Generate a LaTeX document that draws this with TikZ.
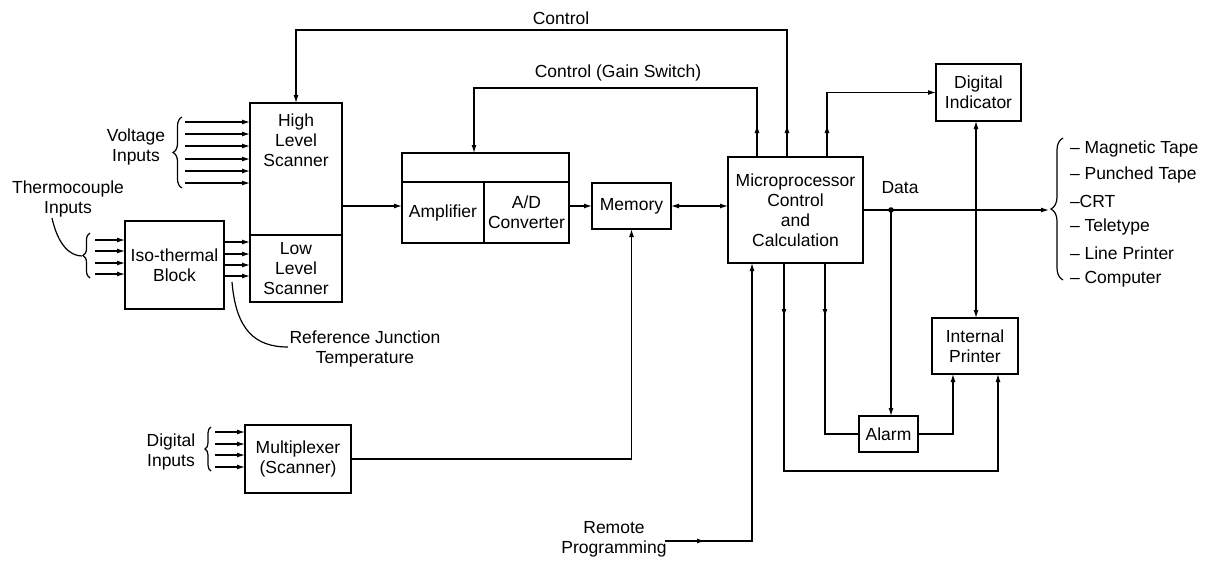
\documentclass[tikz,border=0pt]{standalone}
\usepackage{fontspec}
\setmainfont{Liberation Sans}
\usetikzlibrary{arrows.meta,decorations.pathreplacing,decorations.markings,calc}
\begin{document}
\begin{tikzpicture}[x=1pt,y=-1pt,
  every node/.style={font=\fontsize{17.5}{20}\selectfont, inner sep=0pt, outer sep=0pt},
  box/.style={draw, line width=1.2pt, align=center},
  wire/.style={line width=1.2pt},
  arr/.style={wire, -{Latex[length=8pt,width=5pt]}},
  dbl/.style={wire, {Latex[length=8pt,width=5pt]}-{Latex[length=8pt,width=5pt]}},
  midarr/.style={postaction={decorate}, decoration={markings, mark=at position #1 with {\arrow{Latex[length=8pt,width=5pt]}}}},
  brc/.style={wire, decorate, decoration={brace, amplitude=#1}},
  lbl/.style={align=center},
]
\useasboundingbox (0,0) rectangle (1211,563);

% boxes
\node[box, minimum width=92pt, minimum height=132pt] (hls) at (296,169) {};
\node[lbl] (hlstext) at (296,140) {High\\Level\\Scanner};
\node[box, minimum width=92pt, minimum height=67pt] (lls) at (296,268.5) {Low\\Level\\Scanner};
\node[box, minimum width=99pt, minimum height=88pt] (iso) at (174.5,265) {Iso-thermal\\Block};
\node[box, minimum width=167pt, minimum height=29pt] (amptop) at (485.5,167.5) {};
\node[box, minimum width=82pt, minimum height=61pt] (amp) at (443,212.5) {Amplifier};
\node[box, minimum width=85pt, minimum height=61pt] (adc) at (526.5,212.5) {A/D\\Converter};
\node[box, minimum width=79pt, minimum height=46pt] (memory) at (631.5,206) {Memory};
\node[box, minimum width=135pt, minimum height=106pt] (mp) at (795.5,210) {Microprocessor\\Control\\and\\Calculation};
\node[box, minimum width=85pt, minimum height=57pt] (di) at (978.5,92.5) {Digital\\Indicator};
\node[box, minimum width=86pt, minimum height=56pt] (ip) at (975,346) {Internal\\Printer};
\node[box, minimum width=59pt, minimum height=36pt] (alarm) at (888.5,434) {Alarm};
\node[box, minimum width=106pt, minimum height=68pt] (mux) at (298,459) {Multiplexer\\(Scanner)};

% labels
\node[lbl] (vin) at (136,147) {Voltage\\Inputs};
\node[lbl] (tin) at (68,199) {Thermocouple\\Inputs};
\node[lbl] (din) at (171,452) {Digital\\Inputs};
\node[lbl] (rjt) at (365,349) {Reference Junction\\Temperature};
\node[lbl] (rp) at (614,539) {Remote\\Programming};
\node (ctl) at (561,18) {Control};
\node (gain) at (618,73) {Control (Gain Switch)};
\node (data) at (900,188) {Data};
\node[anchor=west] (o1) at (1070,149) {– Magnetic Tape};
\node[anchor=west] (o2) at (1070,175) {– Punched Tape};
\node[anchor=west] (o3) at (1070,201) {–CRT};
\node[anchor=west] (o4) at (1070,227) {– Teletype};
\node[anchor=west] (o5) at (1070,253) {– Line Printer};
\node[anchor=west] (o6) at (1070,279) {– Computer};

% input arrows
\foreach \y in {122,134,146,159,171,183} \draw[arr] (185,\y) -- (hls.west |- 0,\y);
\foreach \y in {240,251,263,274} \draw[arr] (95,\y) -- (iso.west |- 0,\y);
\foreach \y in {242,254,265,276} \draw[arr] (iso.east |- 0,\y) -- (lls.west |- 0,\y);
\foreach \y in {432,444,455,467} \draw[arr] (215,\y) -- (mux.west |- 0,\y);

% braces
\draw[brc=9pt] (182,188) -- (182,117);
\draw[brc=7pt] (90,278) -- (90,233);
\draw[brc=6pt] (211,471) -- (211,427);
\draw[brc=12pt] (1063,280) -- (1063,138);

% curved pointers
\draw[wire] (52,218) .. controls (58,245) and (70,256) .. (82,256);
\draw[wire] (232,282) .. controls (236,330) and (255,347) .. (288,347);

% signal path
\draw[arr] (hls.east |- memory.west) -- (amp.west |- memory.west);
\draw[arr] (adc.east |- memory.west) -- (memory.west);
\draw[dbl] (memory.east) -- (memory.east -| mp.west);
\draw[arr] (mux.east) -| (memory.south);

% control lines
\coordinate (cx) at (787,30);
\draw[arr, midarr=32pt] (mp.north -| cx) -- (cx) -| (hls.north);
\coordinate (gx) at (757,88);
\draw[arr, midarr=32pt] (mp.north -| gx) -- (gx) -| (amptop.north -| 474,0);
\draw[arr, midarr=32pt] (mp.north -| 827,0) |- (di.west);

% data
\coordinate (dot) at (891,210);
\draw[arr] (mp.east) -- (1049,210);
\fill (dot) circle (2.8pt);
\draw[arr] (dot) -- (dot |- alarm.north);
\draw[dbl] (di.south -| 976,0) -- (ip.north -| 976,0);
\draw[arr] (alarm.east) -| (ip.south -| 953,0);
\draw[arr, midarr=54pt] (mp.south -| 784,0) -- (784,471) -| (ip.south -| 998,0);
\draw[wire, midarr=54pt] (mp.south -| 825,0) |- (alarm.west);
\draw[arr, midarr=40pt] (665,541) -- (752,541) -- (mp.south -| 752,0);
\end{tikzpicture}
\end{document}
